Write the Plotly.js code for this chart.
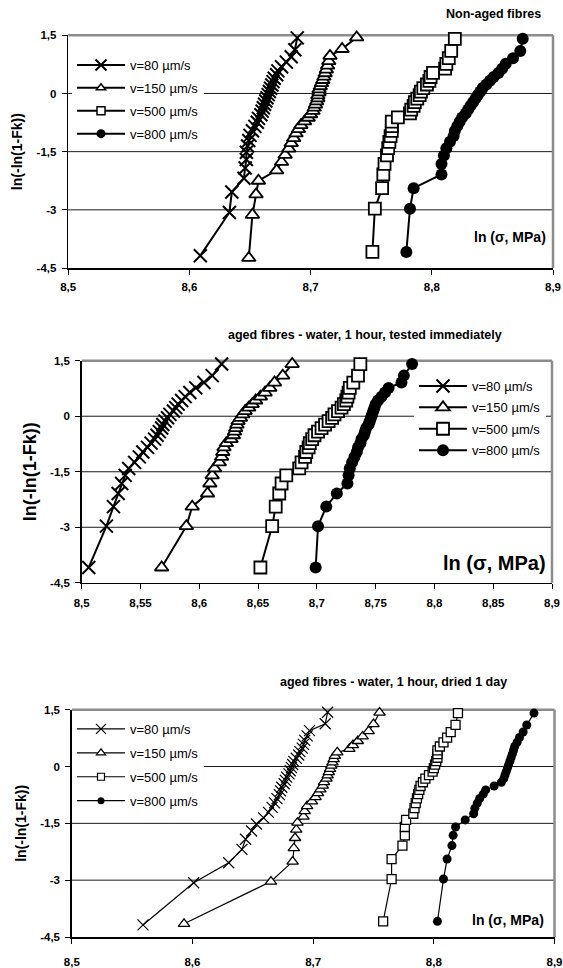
<!DOCTYPE html>
<html><head><meta charset="utf-8">
<script src="https://cdn.plot.ly/plotly-3.0.1.min.js"></script>
<style>html,body{margin:0;padding:0;background:#fff}#chart{width:563px;height:968px}</style>
</head><body><div id="chart"></div>
<script>
// Series names
const seriesNames = ['v=80 µm/s', 'v=150 µm/s', 'v=500 µm/s', 'v=800 µm/s'];
const panelTitles = ['Non-aged fibres', 'aged fibres - water, 1 hour, tested immediately', 'aged fibres - water, 1 hour, dried 1 day'];
const xAxisTitle = 'ln (σ, MPa)';
const yAxisTitle = 'ln(-ln(1-Fk))';

// Y tick labels
const yTickVals = [-4.5, -3, -1.5, 0, 1.5];
const yTickText = ['-4,5', '-3', '-1,5', '0', '1,5'];
const yGridVals = [-3, -1.5, 0];
// X tick labels
const xTickVals13 = [8.5, 8.6, 8.7, 8.8, 8.9];
const xTickText13 = ['8,5', '8,6', '8,7', '8,8', '8,9'];
const xTickVals2 = [8.5, 8.55, 8.6, 8.65, 8.7, 8.75, 8.8, 8.85, 8.9];
const xTickText2 = ['8,5', '8,55', '8,6', '8,65', '8,7', '8,75', '8,8', '8,85', '8,9'];

// Weibull plotting positions (ln(-ln(1-Fk)))
const yPos30 = [-4.086,-2.970,-2.442,-2.087,-1.817,-1.597,-1.410,-1.246,-1.099,-0.966,-0.842,-0.727,-0.618,-0.514,-0.415,-0.319,-0.225,-0.133,-0.042,0.049,0.140,0.232,0.327,0.425,0.529,0.640,0.765,0.910,1.097,1.410];
const yPos32 = [-4.151,-3.036,-2.509,-2.156,-1.887,-1.668,-1.483,-1.320,-1.175,-1.043,-0.922,-0.809,-0.703,-0.602,-0.505,-0.412,-0.322,-0.234,-0.147,-0.062,0.023,0.108,0.194,0.282,0.372,0.466,0.566,0.674,0.794,0.936,1.119,1.425];
const yPos33 = [-4.182,-3.068,-2.541,-2.188,-1.920,-1.702,-1.517,-1.356,-1.211,-1.080,-0.960,-0.848,-0.742,-0.642,-0.547,-0.455,-0.367,-0.280,-0.196,-0.112,-0.030,0.053,0.136,0.219,0.305,0.393,0.485,0.583,0.689,0.808,0.948,1.129,1.433];
const yPos35 = [-4.241,-3.128,-2.602,-2.250,-1.983,-1.766,-1.583,-1.422,-1.279,-1.150,-1.031,-0.920,-0.817,-0.719,-0.626,-0.536,-0.450,-0.367,-0.285,-0.205,-0.126,-0.049,0.029,0.107,0.186,0.266,0.347,0.432,0.521,0.616,0.718,0.834,0.970,1.147,1.447];

// Panel 1: non-aged fibres, ln(sigma)
const p1v80  = [8.609,8.633,8.635,8.645,8.646,8.647,8.647,8.648,8.649,8.650,8.652,8.654,8.656,8.657,8.659,8.660,8.661,8.662,8.663,8.664,8.665,8.666,8.667,8.668,8.669,8.670,8.672,8.673,8.676,8.680,8.684,8.687,8.689];
const p1v150 = [8.649,8.652,8.655,8.657,8.672,8.676,8.679,8.682,8.684,8.686,8.688,8.690,8.692,8.695,8.698,8.700,8.702,8.703,8.704,8.705,8.706,8.706,8.707,8.707,8.708,8.709,8.710,8.711,8.712,8.713,8.714,8.715,8.716,8.726,8.738];
const p1v500 = [8.751,8.753,8.759,8.760,8.761,8.763,8.764,8.765,8.766,8.767,8.767,8.767,8.772,8.782,8.783,8.785,8.786,8.788,8.790,8.791,8.793,8.796,8.798,8.799,8.801,8.811,8.812,8.814,8.816,8.819];
const p1v800 = [8.779,8.782,8.785,8.808,8.808,8.810,8.812,8.815,8.818,8.819,8.821,8.823,8.825,8.828,8.830,8.832,8.834,8.836,8.838,8.840,8.842,8.845,8.848,8.851,8.855,8.858,8.861,8.867,8.873,8.875];

// Panel 2: aged, tested immediately
const p2v80  = [8.506,8.521,8.527,8.531,8.534,8.537,8.540,8.545,8.549,8.552,8.556,8.559,8.562,8.564,8.566,8.568,8.569,8.571,8.573,8.575,8.578,8.580,8.582,8.585,8.588,8.592,8.597,8.604,8.611,8.619];
const p2v150 = [8.568,8.589,8.594,8.607,8.609,8.611,8.613,8.617,8.619,8.620,8.621,8.623,8.627,8.629,8.630,8.631,8.632,8.633,8.635,8.637,8.639,8.642,8.645,8.648,8.652,8.656,8.660,8.664,8.671,8.679];
const p2v500 = [8.652,8.662,8.665,8.668,8.670,8.674,8.685,8.687,8.690,8.691,8.693,8.694,8.696,8.698,8.701,8.704,8.707,8.710,8.713,8.715,8.718,8.721,8.723,8.725,8.726,8.727,8.728,8.731,8.735,8.737];
const p2v800 = [8.699,8.701,8.708,8.717,8.726,8.727,8.728,8.730,8.732,8.734,8.735,8.737,8.738,8.740,8.741,8.742,8.744,8.745,8.746,8.747,8.748,8.749,8.750,8.752,8.755,8.758,8.761,8.772,8.774,8.781];

// Panel 3: aged, dried 1 day
const p3v80  = [8.559,8.601,8.630,8.641,8.644,8.649,8.653,8.659,8.663,8.666,8.668,8.670,8.672,8.673,8.674,8.676,8.677,8.678,8.680,8.681,8.682,8.683,8.684,8.686,8.688,8.689,8.691,8.692,8.693,8.695,8.697,8.710,8.712];
const p3v150 = [8.593,8.665,8.683,8.684,8.685,8.686,8.687,8.692,8.693,8.695,8.699,8.702,8.704,8.706,8.708,8.709,8.711,8.712,8.713,8.714,8.715,8.716,8.717,8.718,8.720,8.730,8.733,8.737,8.741,8.746,8.750,8.755];
const p3v500 = [8.758,8.765,8.765,8.774,8.776,8.776,8.777,8.783,8.784,8.785,8.786,8.787,8.788,8.789,8.791,8.793,8.796,8.799,8.800,8.801,8.802,8.803,8.803,8.803,8.805,8.808,8.811,8.814,8.818,8.820];
const p3v800 = [8.803,8.808,8.811,8.815,8.816,8.818,8.826,8.833,8.834,8.836,8.838,8.841,8.843,8.850,8.856,8.858,8.859,8.860,8.861,8.862,8.863,8.864,8.865,8.866,8.867,8.869,8.871,8.874,8.877,8.883];

const W = 563, H = 968;
const FONT = 'Liberation Sans, Arial, sans-serif';

const panels = [
  {xs:[p1v80,p1v150,p1v500,p1v800], ys:[yPos33,yPos35,yPos30,yPos30], xa:'x', ya:'y', leg:'legend',
   sizes:[13,12,12,12], legSizes:[11,8,8,9], lw:2, mlw:1.8, legMlw:1.5},
  {xs:[p2v80,p2v150,p2v500,p2v800], ys:[yPos30,yPos30,yPos30,yPos30], xa:'x2', ya:'y2', leg:'legend2',
   sizes:[13,12,12,12], legSizes:[13,12,12,12], lw:2, mlw:1.8, legMlw:1.8},
  {xs:[p3v80,p3v150,p3v500,p3v800], ys:[yPos33,yPos32,yPos30,yPos30], xa:'x3', ya:'y3', leg:'legend3',
   sizes:[11,10,9,9], legSizes:[10,8,7,7], lw:1.2, mlw:1.3, legMlw:1.2}
];

const symbols = ['x-thin', 'triangle-up', 'square', 'circle'];
const fills = ['#000', '#fff', '#fff', '#000'];

const traces = [];
const legendTraces = [];
panels.forEach((p, pi) => {
  for (let s = 0; s < 4; s++) {
    const grp = 'p' + pi + 's' + s;
    traces.push({
      type: 'scatter', mode: 'lines+markers',
      x: p.xs[s], y: p.ys[s], xaxis: p.xa, yaxis: p.ya,
      name: seriesNames[s], legend: p.leg, legendgroup: grp, showlegend: false,
      cliponaxis: false,
      line: {color: '#000', width: p.lw},
      marker: {symbol: symbols[s], size: p.sizes[s], color: fills[s],
               line: {color: '#000', width: s === 0 ? p.lw : (s === 3 ? 0 : p.mlw)}}
    });
    // legend entry with the reference's smaller legend symbols
    legendTraces.push({
      type: 'scatter', mode: 'lines+markers', x: [null], y: [null], xaxis: p.xa, yaxis: p.ya,
      name: seriesNames[s], legend: p.leg, legendgroup: grp, showlegend: true,
      line: {color: '#000', width: p.lw},
      marker: {symbol: symbols[s], size: p.legSizes[s], color: fills[s],
               line: {color: '#000', width: s === 0 ? p.lw : (s === 3 ? 0 : p.legMlw)}}
    });
  }
});

function px2fx(px) { return px / W; }
function py2fy(py) { return 1 - py / H; }

const tickFont = {family: FONT, size: 11.5, color: '#000', weight: 'bold'};
function xAxis(domL, domR, anchor, vals, text, standoff) {
  return {domain: [px2fx(domL), px2fx(domR)], anchor: anchor, range: [8.5, 8.9],
    tickvals: vals, ticktext: text, ticks: 'outside', ticklen: 5, tickcolor: '#000', tickwidth: 1,
    showline: true, linecolor: '#000', linewidth: 1.5, showgrid: false, zeroline: false,
    tickfont: tickFont, ticklabelstandoff: standoff, fixedrange: true};
}
function yAxis(domT, domB, anchor, titleSize, standoff) {
  return {domain: [py2fy(domB), py2fy(domT)], anchor: anchor, range: [-4.5, 1.5],
    tickvals: yTickVals, ticktext: yTickText, ticks: 'outside', ticklen: 5, tickcolor: '#000', tickwidth: 1,
    showline: true, linecolor: '#000', linewidth: 1.5, showgrid: false,
    zeroline: false, tickfont: tickFont, ticklabelstandoff: 3,
    title: {text: yAxisTitle, font: {family: FONT, size: titleSize, color: '#000', weight: 'bold'}, standoff: standoff},
    fixedrange: true};
}

function legendAt(left, top, gap) {
  return {x: px2fx(left), y: py2fy(top), xanchor: 'left', yanchor: 'top', bgcolor: '#fff', borderwidth: 0,
    font: {family: FONT, size: 13, color: '#000'}, itemwidth: 48, tracegroupgap: gap, traceorder: 'grouped',
    itemsizing: 'trace'};
}

// horizontal gridlines plus gray top and right border of each plot area, all beneath the data
function frameLines(xr, yr) {
  const out = yGridVals.map(v => ({type: 'line', xref: xr + ' domain', yref: yr, x0: 0, x1: 1, y0: v, y1: v,
     line: {color: '#1a1a1a', width: 1}, layer: 'below'}));
  out.push({type: 'line', xref: xr + ' domain', yref: yr + ' domain', x0: 0, x1: 1, y0: 1, y1: 1,
     line: {color: '#8c8c8c', width: 2.5}, layer: 'below'});
  out.push({type: 'line', xref: xr + ' domain', yref: yr + ' domain', x0: 1, x1: 1, y0: 0, y1: 1,
     line: {color: '#8c8c8c', width: 2.5}, layer: 'below'});
  return out;
}

const annFont = (sz) => ({family: FONT, size: sz, color: '#000', weight: 'bold'});
const layout = {
  width: W, height: H, margin: {l: 0, r: 0, t: 0, b: 0},
  paper_bgcolor: '#fff', plot_bgcolor: 'rgba(0,0,0,0)', showlegend: true,
  xaxis: xAxis(68.2, 553, 'y', xTickVals13, xTickText13, 3),
  yaxis: yAxis(35.3, 268, 'x', 14, 10),
  xaxis2: xAxis(81.7, 552, 'y2', xTickVals2, xTickText2, 4),
  yaxis2: yAxis(360.7, 582.8, 'x2', 18, 9),
  xaxis3: xAxis(71.8, 554.5, 'y3', xTickVals13, xTickText13, 9),
  yaxis3: yAxis(709.7, 937, 'x3', 14, 10),
  legend: legendAt(72, 50, 3),
  legend2: legendAt(414, 371, 1.5),
  legend3: legendAt(72, 714, 4),
  shapes: [].concat(frameLines('x', 'y'), frameLines('x2', 'y2'), frameLines('x3', 'y3')),
  annotations: [
    {text: panelTitles[0], xref: 'paper', yref: 'paper', x: px2fx(493), y: py2fy(14), showarrow: false, font: annFont(12.5), xanchor: 'center', yanchor: 'middle'},
    {text: panelTitles[1], xref: 'paper', yref: 'paper', x: px2fx(365), y: py2fy(335), showarrow: false, font: annFont(12.5), xanchor: 'center', yanchor: 'middle'},
    {text: panelTitles[2], xref: 'paper', yref: 'paper', x: px2fx(393), y: py2fy(682), showarrow: false, font: annFont(12.5), xanchor: 'center', yanchor: 'middle'},
    {text: xAxisTitle, xref: 'paper', yref: 'paper', x: px2fx(548), y: py2fy(237), showarrow: false, font: annFont(14), xanchor: 'right', yanchor: 'middle'},
    {text: xAxisTitle, xref: 'paper', yref: 'paper', x: px2fx(548), y: py2fy(563), showarrow: false, font: annFont(20), xanchor: 'right', yanchor: 'middle'},
    {text: xAxisTitle, xref: 'paper', yref: 'paper', x: px2fx(546), y: py2fy(920), showarrow: false, font: annFont(14), xanchor: 'right', yanchor: 'middle'}
  ]
};

Plotly.newPlot('chart', traces.concat(legendTraces), layout, {displayModeBar: false, staticPlot: true});
</script></body></html>
